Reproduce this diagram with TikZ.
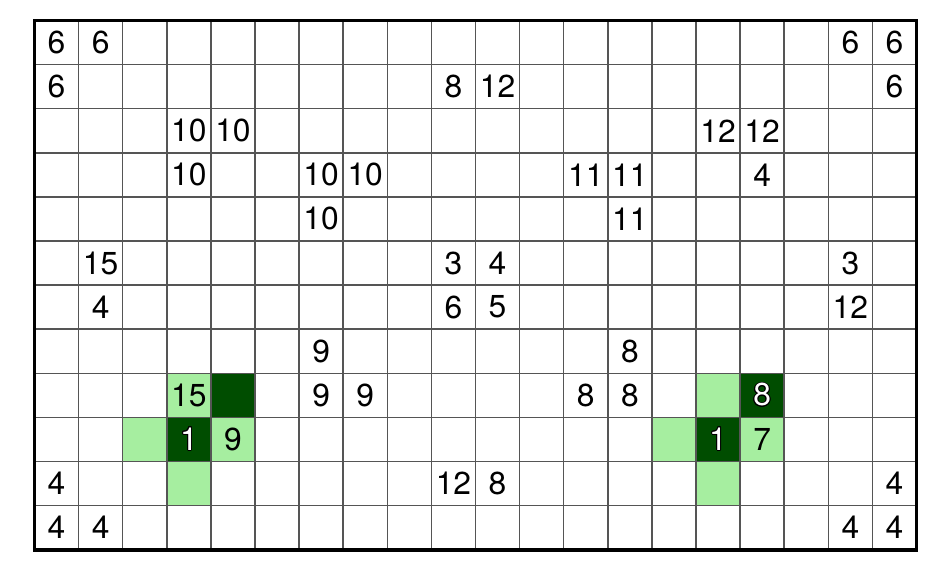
\documentclass[tikz,border=0pt]{standalone}
\usepackage{fontspec}
\setmainfont{TeX Gyre Heros}
\usepackage{contour}
\contourlength{0.6pt}
\definecolor{darkgr}{RGB}{0,77,0}
\definecolor{lightgr}{RGB}{166,238,160}
\definecolor{gridgr}{RGB}{85,85,85}
\tikzset{
	num/.style={font=\fontsize{20.5}{20.5}\selectfont, inner sep=0pt},
	thin grid/.style={draw=gridgr, line width=0.95pt},
	frame/.style={draw=black, line width=2.3pt}
}

\begin{document}
\begin{tikzpicture}[x=1cm,y=-1cm]
	\useasboundingbox (-0.782,-0.465) rectangle (20.805,12.544);
	% shaded cells
	\foreach \c/\r in {3/10,4/9,5/10,4/11,15/10,16/9,17/10,16/11}{
		\fill[lightgr] (\c-1,\r-1) rectangle (\c,\r);
	}
	\foreach \c/\r in {5/9,4/10,16/10,17/9}{
		\fill[darkgr] (\c-1,\r-1) rectangle (\c,\r);
	}
	% grid
	\foreach \i in {1,...,19}{
		\draw[thin grid] (\i,0) -- (\i,12);
	}
	\foreach \j in {1,...,11}{
		\draw[thin grid] (0,\j) -- (20,\j);
	}
	\draw[frame] (0,0) rectangle (20,12);
	% numbers
	\foreach \c/\r/\v in {1/1/6,2/1/6,19/1/6,20/1/6,
		1/2/6,10/2/8,11/2/12,20/2/6,
		4/3/10,5/3/10,16/3/12,17/3/12,
		4/4/10,7/4/10,8/4/10,13/4/11,14/4/11,17/4/4,
		7/5/10,14/5/11,
		2/6/15,10/6/3,11/6/4,19/6/3,
		2/7/4,10/7/6,11/7/5,19/7/12,
		7/8/9,14/8/8,
		4/9/15,7/9/9,8/9/9,13/9/8,14/9/8,
		5/10/9,17/10/7,
		1/11/4,10/11/12,11/11/8,20/11/4,
		1/12/4,2/12/4,19/12/4,20/12/4}{
		\node[num] (n\c-\r) at (\c-0.5,\r-0.5) {\v};
	}
	\foreach \c/\r/\v in {4/10/1,16/10/1,17/9/8}{
		\node[num] (d\c-\r) at (\c-0.5,\r-0.5) {\contour{black}{\textcolor{white}{\v}}};
	}
\end{tikzpicture}
\end{document}
